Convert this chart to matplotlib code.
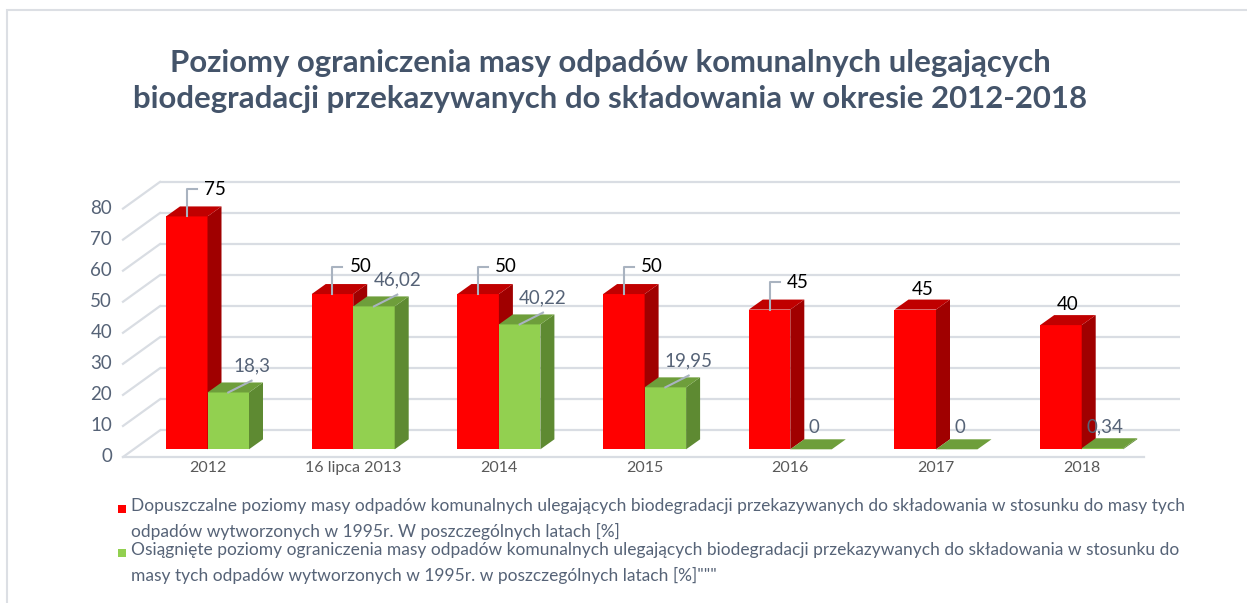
import matplotlib
matplotlib.use("Agg")
import matplotlib.pyplot as plt
from matplotlib.patches import Polygon, Rectangle

# ---------------- data ----------------
categories = ["2012", "16 lipca 2013", "2014", "2015", "2016", "2017", "2018"]
allowed = [75, 50, 50, 50, 45, 45, 40]
achieved = [18.3, 46.02, 40.22, 19.95, 0, 0, 0.34]
allowed_labels = ["75", "50", "50", "50", "45", "45", "40"]
achieved_labels = ["18,3", "46,02", "40,22", "19,95", "0", "0", "0,34"]
red_leader = [True, True, True, True, True, False, False]
yticks = [0, 10, 20, 30, 40, 50, 60, 70, 80]

title = ("Poziomy ograniczenia masy odpadów komunalnych ulegających\n"
         "biodegradacji przekazywanych do składowania w okresie 2012-2018")
legend1 = ("Dopuszczalne poziomy masy odpadów komunalnych ulegających biodegradacji przekazywanych do składowania w stosunku do masy tych\n"
           "odpadów wytworzonych w 1995r. W poszczególnych latach [%]")
legend2 = ("Osiągnięte poziomy ograniczenia masy odpadów komunalnych ulegających biodegradacji przekazywanych do składowania w stosunku do\n"
           "masy tych odpadów wytworzonych w 1995r. w poszczególnych latach [%]\"\"\"")

# ---------------- style ----------------
plt.rcParams['font.family'] = ['Lato', 'DejaVu Sans']
RED_F, RED_T, RED_S = '#FF0000', '#C00000', '#A00000'
GRN_F, GRN_T, GRN_S = '#92D050', '#6E9E3B', '#5E8A32'
GRID = '#D9DDE3'
TXT = '#44546A'
LBL = '#566377'
LEAD = '#A9B3C0'

W, H = 1247, 603
fig = plt.figure(figsize=(W / 100, H / 100), dpi=100)
fig.patch.set_facecolor('white')

# axes geometry (pixels)
PX_CAT = 145.7      # px per category
PX_VAL = 3.105      # px per value unit
X0_PX = 207.5       # px of first category centre
Y0_PX = 449.3       # px of value 0 on bar plane
ax_l, ax_r, ax_t, ax_b = 100, 1200, 170, 470
ax = fig.add_axes([ax_l / W, 1 - ax_b / H, (ax_r - ax_l) / W, (ax_b - ax_t) / H])
ax.set_xlim((ax_l - X0_PX) / PX_CAT, (ax_r - X0_PX) / PX_CAT)
ax.set_ylim((Y0_PX - ax_b) / PX_VAL, (Y0_PX - ax_t) / PX_VAL)
ax.axis('off')

bw = 41.5 / PX_CAT            # bar width
ddx, ddy = 14 / PX_CAT, 10 / PX_VAL   # bar depth
front = (-11 / PX_CAT, -7.7 / PX_VAL)
back = (26 / PX_CAT, 19 / PX_VAL)
wall_l = (160 - X0_PX) / PX_CAT
wall_r = (1180 - X0_PX) / PX_CAT
floor_l = (123 - X0_PX) / PX_CAT
floor_r = (1144 - X0_PX) / PX_CAT

# back wall grid + side diagonals
for v in yticks:
    ax.plot([wall_l, wall_r], [v + back[1], v + back[1]], color=GRID, lw=1.6, zorder=1,
            solid_capstyle='butt')
    ax.plot([floor_l, wall_l], [v + front[1], v + back[1]], color=GRID, lw=1.6, zorder=1)
    ax.text(floor_l - 0.075, v + front[1], str(v), ha='right', va='center',
            fontsize=13.5, color=LBL)
ax.plot([floor_l, floor_r], [front[1], front[1]], color=GRID, lw=1.6, zorder=1)

# category labels
for i, c in enumerate(categories):
    ax.text(i, (Y0_PX - 468) / PX_VAL, c, ha='center', va='center', fontsize=11.5, color='#595959')

xs = list(range(len(categories)))


def bar3d(left, v, cf, ct, cs, z):
    ax.bar(left, v, width=bw, align='edge', color=cf, linewidth=0, zorder=z)
    ax.add_patch(Polygon([(left + bw, 0), (left + bw, v), (left + bw + ddx, v + ddy),
                          (left + bw + ddx, ddy)], closed=True, facecolor=cs, lw=0, zorder=z))
    ax.add_patch(Polygon([(left, v), (left + bw, v), (left + bw + ddx, v + ddy),
                          (left + ddx, v + ddy)], closed=True, facecolor=ct, lw=0, zorder=z))


for i in xs:
    bar3d(i - bw, allowed[i], RED_F, RED_T, RED_S, 3)
    bar3d(i, achieved[i], GRN_F, GRN_T, GRN_S, 4)

# data labels
for i in xs:
    v = allowed[i]
    cx = i - bw / 2
    if red_leader[i]:
        top = v + 8.8
        hx = cx + 10 / PX_CAT
        ax.plot([cx, cx, hx], [v, top, top], color=LEAD, lw=1.5, zorder=6)
        ax.text(hx + 7 / PX_CAT, top, allowed_labels[i], ha='left', va='center',
                fontsize=13.5, color='black', zorder=7)
    else:
        ax.text(cx + ddx / 2, v + 6.5, allowed_labels[i], ha='center', va='center',
                fontsize=13.5, color='black', zorder=7)

    g = achieved[i]
    gx = i + bw / 2
    if g > 1:
        ex, ey = gx + 0.16, g + 3.8
        ax.plot([gx, ex], [g, ey], color=LEAD, lw=1.5, zorder=6)
        ax.text(ex, g + 8.5, achieved_labels[i], ha='center', va='center',
                fontsize=13.5, color=LBL, zorder=7)
    else:
        ax.text(gx + 0.02, g + 7, achieved_labels[i], ha='center', va='center',
                fontsize=13.5, color=LBL, zorder=7)

# title
fig.text(610 / W, 1 - 81 / H, title, ha='center', va='center', fontsize=22.4,
         fontweight='bold', color=TXT, linespacing=1.38)

# legend
for txt, col, ymid in [(legend1, RED_F, 509), (legend2, '#92D050', 553)]:
    fig.patches.append(Rectangle((118 / W, 1 - (ymid + 4) / H), 8 / W, 8 / H,
                                 transform=fig.transFigure, facecolor=col, lw=0))
    fig.text(131 / W, 1 - (ymid - 11) / H, txt, ha='left', va='top', fontsize=12.55,
             color=LBL, linespacing=1.62)

# outer border
fig.patches.append(Rectangle((7 / W, -0.1), 1.2, (H - 10) / H + 0.1, transform=fig.transFigure,
                             fill=False, edgecolor='#DCDFE4', lw=1.5))

fig.savefig('out.png', dpi=100, facecolor='white')
